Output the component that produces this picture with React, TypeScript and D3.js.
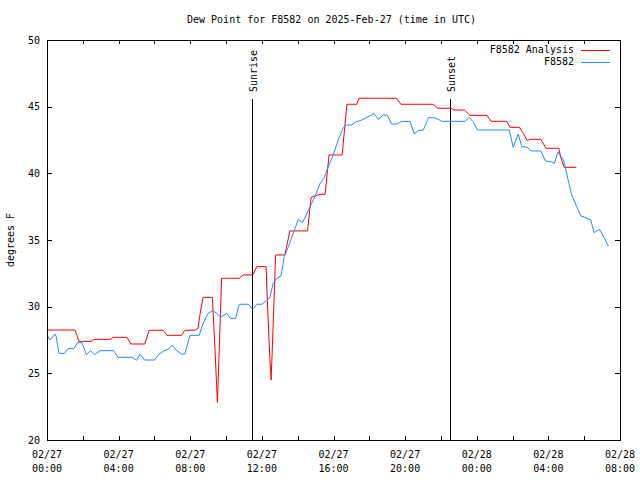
import React from "react";
import * as d3 from "d3";

// Analysis series: minutes after 2025-02-27 00:00 UTC, dew point (°F)
const analysisMinutes = [0, 94, 107, 151, 157, 214, 221, 268, 281, 328, 342, 389, 402, 451, 462, 496, 506, 514, 523, 554, 563, 571, 576, 585, 644, 657, 690, 703, 734, 741, 747, 751, 756, 762, 766, 797, 814, 873, 885, 898, 915, 932, 945, 989, 1005, 1038, 1045, 1171, 1186, 1293, 1310, 1354, 1364, 1399, 1417, 1474, 1488, 1541, 1551, 1583, 1596, 1609, 1618, 1655, 1672, 1715, 1722, 1733, 1774];
const analysisValues = [28.25, 28.25, 27.4, 27.4, 27.55, 27.55, 27.7, 27.7, 27.2, 27.2, 28.23, 28.23, 27.85, 27.85, 28.23, 28.23, 28.38, 29.6, 30.7, 30.7, 26.75, 22.8, 26.0, 32.13, 32.13, 32.38, 32.38, 33.0, 33.0, 29.0, 26.0, 24.5, 27.5, 31.25, 33.88, 33.88, 35.68, 35.68, 38.2, 38.3, 38.43, 38.43, 41.38, 41.38, 45.18, 45.18, 45.63, 45.63, 45.18, 45.18, 44.88, 44.88, 44.75, 44.75, 44.35, 44.35, 43.9, 43.9, 43.45, 43.45, 43.0, 42.45, 42.55, 42.55, 41.88, 41.88, 41.15, 40.45, 40.45];

// Observed series F8582
const obsMinutes = [0, 10, 27, 31, 40, 59, 70, 90, 102, 117, 132, 146, 159, 178, 223, 238, 285, 300, 312, 327, 360, 374, 392, 406, 420, 432, 451, 462, 479, 510, 522, 540, 555, 569, 582, 602, 614, 632, 644, 675, 689, 703, 720, 735, 747, 758, 770, 784, 795, 809, 825, 842, 856, 870, 887, 898, 915, 928, 943, 959, 976, 993, 1005, 1022, 1032, 1055, 1072, 1088, 1096, 1110, 1127, 1140, 1155, 1172, 1189, 1216, 1231, 1244, 1261, 1278, 1300, 1323, 1401, 1415, 1428, 1442, 1549, 1562, 1579, 1591, 1609, 1623, 1655, 1670, 1692, 1700, 1712, 1722, 1731, 1741, 1749, 1758, 1775, 1789, 1803, 1822, 1833, 1851, 1862, 1881];
const obsValues = [27.88, 27.5, 27.95, 27.75, 26.5, 26.5, 26.85, 26.85, 27.3, 27.3, 26.4, 26.7, 26.4, 26.7, 26.7, 26.2, 26.2, 25.98, 26.43, 26.0, 26.0, 26.4, 26.7, 26.8, 27.1, 26.75, 26.43, 26.45, 27.85, 27.85, 28.7, 29.5, 29.7, 29.5, 29.2, 29.5, 29.13, 29.13, 30.18, 30.18, 29.8, 30.18, 30.18, 30.45, 30.69, 31.75, 32.13, 32.3, 33.75, 34.5, 35.5, 36.54, 36.3, 36.95, 37.75, 38.25, 39.25, 39.63, 40.5, 41.38, 42.5, 43.45, 43.63, 43.63, 43.83, 44.0, 44.2, 44.38, 44.5, 44.05, 44.38, 44.35, 43.7, 43.7, 43.89, 43.89, 42.95, 43.21, 43.25, 44.17, 44.17, 43.9, 43.9, 44.19, 43.87, 43.25, 43.25, 41.95, 42.95, 42.0, 41.95, 41.68, 41.68, 40.93, 40.85, 40.74, 41.6, 41.26, 41.0, 40.0, 39.25, 38.38, 37.5, 36.8, 36.7, 36.5, 35.55, 35.8, 35.38, 34.55];

const sunEvents = [
  { label: "Sunrise", minute: 687 },
  { label: "Sunset", minute: 1350 },
];

const yTicks = [20, 25, 30, 35, 40, 45, 50];
const seriesNames = ["F8582 Analysis", "F8582"];
const seriesColors = ["#ff0000", "#1e8cff"];

const T0 = Date.UTC(2025, 1, 27, 0, 0);
const toDate = (m: number) => new Date(T0 + m * 60000);

const FONT = "'DejaVu Sans Mono', monospace";

export default function App() {
  const W = 640, H = 480;
  const left = 47, right = 620, top = 40, bottom = 440;
  const x = d3.scaleUtc().domain([toDate(0), toDate(32 * 60)]).range([left, right]);
  const y = d3.scaleLinear().domain([20, 50]).range([bottom, top]);

  const line = d3
    .line<[number, number]>()
    .x((d) => x(toDate(d[0])))
    .y((d) => y(d[1]));

  const analysis = analysisMinutes.map((m, i) => [m, analysisValues[i]] as [number, number]);
  const obs = obsMinutes.map((m, i) => [m, obsValues[i]] as [number, number]);

  const minorTicks = d3.utcHour.every(2)!.range(toDate(0), toDate(32 * 60 + 1));
  const majorTicks = d3.utcHour.every(4)!.range(toDate(0), toDate(32 * 60 + 1));
  const fmtDate = d3.utcFormat("%m/%d");
  const fmtTime = d3.utcFormat("%H:%M");

  return (
    <svg
      width={W}
      height={H}
      style={{ position: "absolute", left: 0, top: 0, background: "#fff" }}
      fontFamily={FONT}
      fontSize={10}
    >
      <rect x={0} y={0} width={W} height={H} fill="#fff" />
      <text x={331.5} y={22.5} textAnchor="middle" fill="#000">
        Dew Point for F8582 on 2025-Feb-27 (time in UTC)
      </text>

      {/* y ticks */}
      {yTicks.map((t) => (
        <g key={"y" + t}>
          <line x1={left} x2={left + 5} y1={Math.round(y(t)) + 0.5} y2={Math.round(y(t)) + 0.5} stroke="#000" shapeRendering="crispEdges" />
          <line x1={right - 5} x2={right} y1={Math.round(y(t)) + 0.5} y2={Math.round(y(t)) + 0.5} stroke="#000" shapeRendering="crispEdges" />
          <text x={40} y={y(t) + 3.6} textAnchor="end" fill="#000">
            {t}
          </text>
        </g>
      ))}

      {/* x ticks */}
      {minorTicks.map((d, i) => {
        const xx = Math.round(x(d)) + 0.5;
        return (
          <g key={"xt" + i}>
            <line x1={xx} x2={xx} y1={bottom} y2={bottom - 4} stroke="#000" shapeRendering="crispEdges" />
            <line x1={xx} x2={xx} y1={top} y2={top + 4} stroke="#000" shapeRendering="crispEdges" />
          </g>
        );
      })}
      {majorTicks.map((d, i) => (
        <g key={"xl" + i}>
          <text x={x(d)} y={458} textAnchor="middle" fill="#000">
            {fmtDate(d)}
          </text>
          <text x={x(d)} y={471.5} textAnchor="middle" fill="#000">
            {fmtTime(d)}
          </text>
        </g>
      ))}

      {/* y axis label */}
      <text transform="translate(14,240) rotate(-90)" textAnchor="middle" fill="#000">
        degrees F
      </text>

      {/* sunrise / sunset */}
      {sunEvents.map((e) => {
        const xx = Math.round(x(toDate(e.minute))) + 0.5;
        return (
          <g key={e.label}>
            <line x1={xx} x2={xx} y1={99} y2={bottom} stroke="#000" shapeRendering="crispEdges" />
            <text transform={`translate(${xx + 4},92) rotate(-90)`} textAnchor="start" fill="#000">
              {e.label}
            </text>
          </g>
        );
      })}

      {/* data */}
      <path d={line(analysis) || ""} fill="none" stroke={seriesColors[0]} strokeWidth={1} />
      <path d={line(obs) || ""} fill="none" stroke={seriesColors[1]} strokeWidth={1} />

      {/* legend */}
      {seriesNames.map((n, i) => {
        const ly = i === 0 ? 49.5 : 61.5;
        return (
          <g key={n}>
            <text x={574} y={ly + 3.6} textAnchor="end" fill="#000">
              {n}
            </text>
            <line x1={581} x2={610} y1={Math.round(ly) + 0.5} y2={Math.round(ly) + 0.5} stroke={seriesColors[i]} shapeRendering="crispEdges" />
          </g>
        );
      })}

      {/* border */}
      <rect x={left + 0.5} y={top + 0.5} width={right - left} height={bottom - top} fill="none" stroke="#000" shapeRendering="crispEdges" />
    </svg>
  );
}
